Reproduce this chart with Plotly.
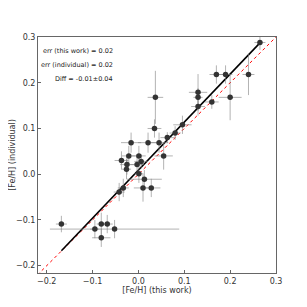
import plotly.graph_objects as go

# [Fe/H] (this work) vs [Fe/H] (individual)
x_this = [0.265, 0.17, 0.19, 0.24, 0.13, 0.13, 0.20, 0.16, 0.13, 0.037,
          0.035, 0.096, 0.08, 0.063, -0.016, 0.021, 0.045, -0.021, 0.001, 0.055,
          -0.037, 0.006, -0.025, -0.003, -0.026, 0.001, 0.013, 0.010, 0.028, -0.042,
          -0.033, -0.168, -0.095, -0.081, -0.068, -0.052, -0.081]
y_ind = [0.288, 0.218, 0.218, 0.218, 0.179, 0.168, 0.168, 0.158, 0.148, 0.168,
         0.100, 0.108, 0.090, 0.080, 0.069, 0.069, 0.069, 0.040, 0.040, 0.040,
         0.030, 0.028, 0.021, 0.021, 0.011, 0.001, -0.011, -0.030, -0.030, -0.039,
         -0.030, -0.109, -0.120, -0.109, -0.109, -0.120, -0.139]
x_err = [0.012, 0.015, 0.015, 0.013, 0.020, 0.010, 0.025, 0.015, 0.015, 0.017,
         0.015, 0.020, 0.012, 0.015, 0.022, 0.022, 0.020, 0.015, 0.015, 0.020,
         0.015, 0.015, 0.015, 0.015, 0.010, 0.010, 0.038, 0.020, 0.020, 0.012,
         0.012, 0.012, 0.010, 0.010, 0.012, 0.141, 0.020]
y_err = [0.016, 0.020, 0.020, 0.045, 0.040, 0.020, 0.050, 0.015, 0.020, 0.058,
         0.020, 0.020, 0.015, 0.012, 0.022, 0.022, 0.022, 0.022, 0.022, 0.030,
         0.020, 0.015, 0.022, 0.022, 0.022, 0.020, 0.020, 0.030, 0.020, 0.020,
         0.020, 0.018, 0.020, 0.025, 0.020, 0.020, 0.020]

fit_slope = 1.05
fit_intercept = 0.009
one_to_one = [-0.22, 0.30]

x_ticks = [-0.2, -0.1, 0.0, 0.1, 0.2, 0.3]
x_ticktext = ["\u22120.2", "\u22120.1", "0.0", "0.1", "0.2", "0.3"]
y_ticks = [-0.2, -0.1, 0.0, 0.1, 0.2, 0.3]
y_ticktext = ["\u22120.2", "\u22120.1", "0.0", "0.1", "0.2", "0.3"]

stats_text = ["err (this work) = 0.02", "err (individual) = 0.02", "Diff = -0.01\u00b10.04"]
stats_y = [0.269, 0.239, 0.208]

FONT = "DejaVu Sans"

fig = go.Figure()

fig.add_trace(go.Scatter(
    x=one_to_one, y=one_to_one, mode="lines",
    line=dict(color="red", width=1, dash="dot"), showlegend=False))

fx = [min(x_this), max(x_this)]
fy = [fit_slope * v + fit_intercept for v in fx]
fig.add_trace(go.Scatter(
    x=fx, y=fy, mode="lines",
    line=dict(color="black", width=1.6), showlegend=False))

fig.add_trace(go.Scatter(
    x=x_this, y=y_ind, mode="markers",
    marker=dict(color="#333333", size=5.5),
    error_x=dict(type="data", array=x_err, color="rgba(128,128,128,0.6)", thickness=1, width=0),
    error_y=dict(type="data", array=y_err, color="rgba(128,128,128,0.6)", thickness=1, width=0),
    showlegend=False))

for t, yy in zip(stats_text, stats_y):
    fig.add_annotation(x=-0.052, y=yy, text=t, showarrow=False,
                       xanchor="right", yanchor="middle",
                       font=dict(family=FONT, size=6.5, color="#222222"))

axis_common = dict(
    showgrid=False, zeroline=False, showline=True, mirror=True,
    linecolor="#666666", linewidth=1, ticks="inside", ticklen=3,
    tickcolor="#666666", tickfont=dict(family=FONT, size=8, color="#333333"),
    automargin=False,
)

fig.update_xaxes(range=[-0.219, 0.3], tickvals=x_ticks, ticktext=x_ticktext,
                 title=dict(text="[Fe/H] (this work)", font=dict(family=FONT, size=8, color="#333333"), standoff=2),
                 **axis_common)
fig.update_yaxes(range=[-0.216, 0.3], tickvals=y_ticks, ticktext=y_ticktext,
                 title=dict(text="[Fe/H] (individual)", font=dict(family=FONT, size=8, color="#333333"), standoff=6),
                 **axis_common)

# page body adds an 8px offset, so the figure is sized to fit the 307px window
fig.update_layout(
    width=299, height=299,
    margin=dict(l=30, r=31, t=29, b=34),
    plot_bgcolor="white", paper_bgcolor="white",
    font=dict(family=FONT),
)

fig.write_html("out.html")
